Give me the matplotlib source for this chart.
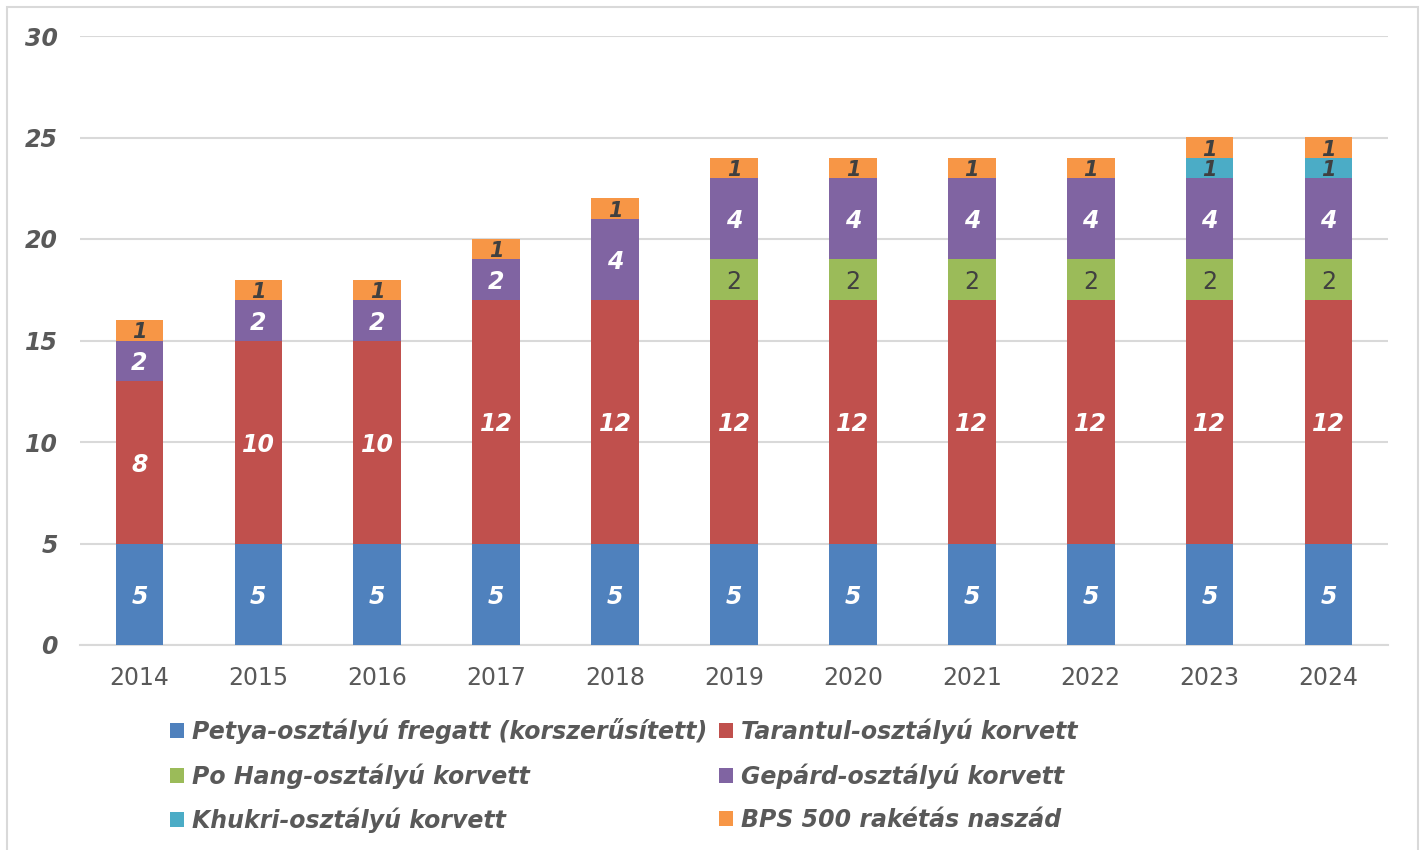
import matplotlib
matplotlib.use("Agg")
import matplotlib.pyplot as plt
from matplotlib.patches import Rectangle
import numpy as np

years = ["2014", "2015", "2016", "2017", "2018", "2019", "2020", "2021", "2022", "2023", "2024"]
series_names = [
    "Petya-osztályú fregatt (korszerűsített)",
    "Tarantul-osztályú korvett",
    "Po Hang-osztályú korvett",
    "Gepárd-osztályú korvett",
    "Khukri-osztályú korvett",
    "BPS 500 rakétás naszád",
]
petya = [5, 5, 5, 5, 5, 5, 5, 5, 5, 5, 5]
tarantul = [8, 10, 10, 12, 12, 12, 12, 12, 12, 12, 12]
pohang = [0, 0, 0, 0, 0, 2, 2, 2, 2, 2, 2]
gepard = [2, 2, 2, 2, 4, 4, 4, 4, 4, 4, 4]
khukri = [0, 0, 0, 0, 0, 0, 0, 0, 0, 1, 1]
bps = [1, 1, 1, 1, 1, 1, 1, 1, 1, 1, 1]
yticks = [0, 5, 10, 15, 20, 25, 30]

colors = ["#4f81bd", "#c0504d", "#9bbb59", "#8064a2", "#4bacc6", "#f79646"]
label_colors = ["white", "white", "#404040", "white", "#404040", "#404040"]
label_styles = ["italic", "italic", "normal", "italic", "italic", "italic"]
label_weights = ["bold", "bold", "normal", "bold", "bold", "bold"]
label_sizes = [17, 17, 17, 17, 15, 15]

data = [petya, tarantul, pohang, gepard, khukri, bps]
txtc = "#595959"

fig = plt.figure(figsize=(14.22, 8.5), dpi=100)
ax = fig.add_axes([80/1422, 1-645/850, 1308/1422, 609/850])

x = np.arange(len(years))
bottom = np.zeros(len(years))
handles = []
for i, vals in enumerate(data):
    vals = np.array(vals, dtype=float)
    bars = ax.bar(x, vals, 0.4, bottom=bottom, color=colors[i], label=series_names[i],
                  zorder=3, edgecolor="none")
    handles.append(bars)
    for j, v in enumerate(vals):
        if v > 0:
            ax.text(x[j], bottom[j] + v/2, f"{int(v)}", ha="center", va="center_baseline",
                    fontsize=label_sizes[i], color=label_colors[i], style=label_styles[i],
                    fontweight=label_weights[i], zorder=4)
    bottom += vals

ax.set_xlim(-0.5, len(years) - 0.5)
ax.set_ylim(0, 30)
ax.set_yticks(yticks)
ax.set_yticklabels([str(t) for t in yticks], fontsize=17, fontweight="bold",
                   style="italic", color=txtc)
ax.set_xticks(x)
ax.set_xticklabels(years, fontsize=17, color=txtc)
ax.tick_params(axis="both", length=0)
ax.tick_params(axis="y", pad=16)
ax.tick_params(axis="x", pad=15)
ax.grid(axis="y", color="#d9d9d9", linewidth=1.5, zorder=0)
for s in ["top", "right", "left"]:
    ax.spines[s].set_visible(False)
ax.spines["bottom"].set_color("#d9d9d9")
ax.spines["bottom"].set_linewidth(1.5)

order = [0, 2, 4, 1, 3, 5]
leg = fig.legend([handles[k] for k in order], [series_names[k] for k in order],
                 ncol=2, loc="upper left", bbox_to_anchor=(149/1422, 1-697/850),
                 frameon=False, handlelength=0.6, handleheight=0.6,
                 handletextpad=0.3, columnspacing=0.53, labelspacing=0.8,
                 prop={"size": 17, "weight": "bold", "style": "italic"})
for t in leg.get_texts():
    t.set_color(txtc)

fig.patches.append(Rectangle((7/1422, -0.05), 1411/1422, 1.05 - 7/850,
                             transform=fig.transFigure, fill=False,
                             edgecolor="#d9d9d9", linewidth=1.5))

fig.savefig("out.png", dpi=100)
